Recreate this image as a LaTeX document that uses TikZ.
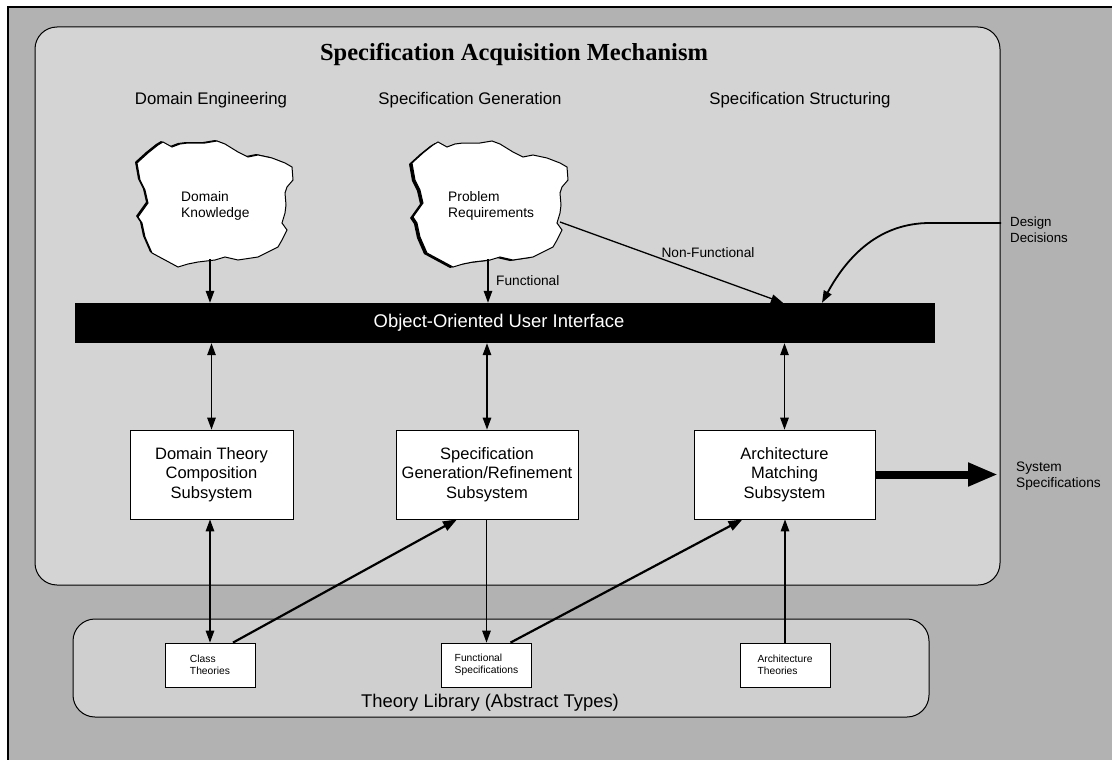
\documentclass[tikz,border=0pt]{standalone}
\usepackage{fontspec}
\setmainfont{Liberation Sans}
\newfontfamily\titlefont{Liberation Serif}
\usetikzlibrary{arrows.meta}
\newcommand{\cloudshape}{(-56,-60) -- (-51,-63) -- (-42,-58) -- (-34,-61) -- (-26,-62) -- (-9,-62) -- (3,-64) -- (11,-61) -- (24,-53) -- (34,-48) -- (44,-50) -- (58,-47) -- (71,-42) -- (78,-38) -- (79,-25) -- (73,-18) -- (71,-12) -- (72,0) -- (71,8) -- (68,18) -- (73,25) -- (68,35) -- (64,42) -- (54,47) -- (44,52) -- (24,55) -- (11,52) -- (1,55) -- (-16,57) -- (-26,59) -- (-36,62) -- (-49,55) -- (-62,48) -- (-69,32) -- (-72,18) -- (-76,12) -- (-66,-2) -- (-69,-15) -- (-74,-25) -- (-77,-42) -- (-66,-52) -- cycle}
\begin{document}
\begin{tikzpicture}[x=1pt,y=-1pt,
  subsys/.style={draw=black, fill=white, line width=0.8pt, minimum height=89pt, align=center, font=\fontsize{16.5}{19.5}\selectfont, inner sep=0pt},
  theory/.style={draw=black, fill=white, line width=0.8pt, minimum width=90pt, minimum height=44pt, align=left, font=\fontsize{10.3}{12.5}\selectfont, inner sep=0pt},
  hdr/.style={font=\fontsize{16.8}{19}\selectfont, anchor=base},
  lbl/.style={font=\fontsize{13.3}{16}\selectfont, align=left},
  cloudtxt/.style={font=\fontsize{13.8}{15.5}\selectfont, align=left, anchor=west, inner sep=0pt},
  conn/.style={line width=1.3pt},
  tip/.style={-{Triangle[length=12pt,width=8.5pt]}},
  dtip/.style={{Triangle[length=12pt,width=8.5pt]}-{Triangle[length=12pt,width=8.5pt]}},
  diag/.style={line width=2.2pt, -{Triangle[length=14pt,width=10pt]}},
]
\useasboundingbox (0,0) rectangle (1112,760);
\fill[white] (0,0) rectangle (1112,760);
% outer frame
\fill[black!30] (8,7) rectangle (1112,760);
\draw[line width=1.4pt] (8,760) -- (8,7) -- (1112,7);
% inner mechanism region
\draw[fill=black!17, line width=1pt, rounded corners=22pt] (35,27) rectangle (1000,585);
% theory library region
\draw[fill=black!19, line width=1pt, rounded corners=22pt] (73,619) rectangle (929,717);

% titles
\node[font=\titlefont\bfseries\fontsize{24.5}{28}\selectfont, anchor=base] (title) at (514,61) {Specification Acquisition Mechanism};
\node[hdr] (h1) at (211,105) {Domain Engineering};
\node[hdr] (h2) at (470,105) {Specification Generation};
\node[hdr] (h3) at (800,105) {Specification Structuring};

% clouds
\fill[black, shift={(212,204)}] \cloudshape;
\draw[fill=white, line width=1pt, shift={(214,205)}] \cloudshape;
\fill[black, shift={(486,206)}] \cloudshape;
\draw[fill=white, line width=1pt, shift={(489,205)}] \cloudshape;
\node[cloudtxt] (dk) at (181,206) {Domain\\Knowledge};
\node[cloudtxt] (pr) at (448,206) {Problem\\Requirements};
\coordinate (dkbot) at (210,259);
\coordinate (prbot) at (488,259);
\coordinate (prright) at (560,222);

% user interface bar
\node[fill=black, minimum width=860pt, minimum height=40pt, inner sep=0pt] (bar) at (505,323) {};
\node[text=white, font=\fontsize{18.4}{20}\selectfont] (bartxt) at (499,323) {Object-Oriented User Interface};

% subsystem boxes
\node[subsys, minimum width=163pt] (dbox) at (211.5,474.5) {Domain Theory\\Composition\\Subsystem};
\node[subsys, minimum width=182pt] (sbox) at (487,474.5) {Specification\\Generation/Refinement\\Subsystem};
\node[subsys, minimum width=181pt] (abox) at (784.5,474.5) {Architecture\\Matching\\Subsystem};

% theory boxes
\node[theory] (cth) at (210,665) {Class\\Theories};
\node[theory] (fsp) at (486.5,665) {Functional\\Specifications};
\node[theory] (ath) at (785,665) {Architecture\\Theories};
\node[font=\fontsize{18.4}{20}\selectfont, anchor=base] (lib) at (490,707) {Theory Library (Abstract Types)};

% labels
\node[font=\fontsize{13.7}{15}\selectfont, anchor=base west, inner sep=0pt] (func) at (496,285) {Functional};
\node[font=\fontsize{13.7}{15}\selectfont, anchor=base, inner sep=0pt] (nonf) at (708,257) {Non-Functional};
\node[lbl, anchor=west, inner sep=0pt] (dd) at (1010,230) {Design\\Decisions};
\node[lbl, anchor=west, inner sep=0pt, font=\fontsize{13.7}{16}\selectfont] (ss) at (1016,476) {System\\Specifications};
\coordinate (ddstart) at (1001,223);
\coordinate (ssend) at (998,474.5);

% connectors cloud -> bar
\draw[conn, tip] (dkbot) -- (dkbot |- bar.north);
\draw[conn, tip] (prbot) -- (prbot |- bar.north);
\draw[conn, tip] (prright) -- ([xshift=278pt]bar.north);
\draw[line width=1.8pt, tip] (ddstart) -- (930,223) .. controls (880,223) and (848,255) .. ([xshift=317pt]bar.north);

% bar <-> boxes
\draw[conn, dtip] (dbox.north |- bar.south) -- (dbox.north);
\draw[conn, dtip] (sbox.north |- bar.south) -- (sbox.north);
\draw[conn, dtip] (abox.north |- bar.south) -- (abox.north);

% boxes <-> theories
\draw[conn, dtip] (dbox.south -| cth.north) -- (cth.north);
\draw[conn, tip] (sbox.south -| fsp.north) -- (fsp.north);
\draw[conn, tip] (ath.north) -- (ath.north |- abox.south);
\draw[diag] ([xshift=23pt]cth.north) -- ([xshift=-30pt]sbox.south);
\draw[diag] ([xshift=24pt]fsp.north) -- ([xshift=-42pt]abox.south);

% output
\draw[line width=8pt, -{Triangle[length=30pt,width=22pt]}] (abox.east) -- (ssend);
\end{tikzpicture}
\end{document}
